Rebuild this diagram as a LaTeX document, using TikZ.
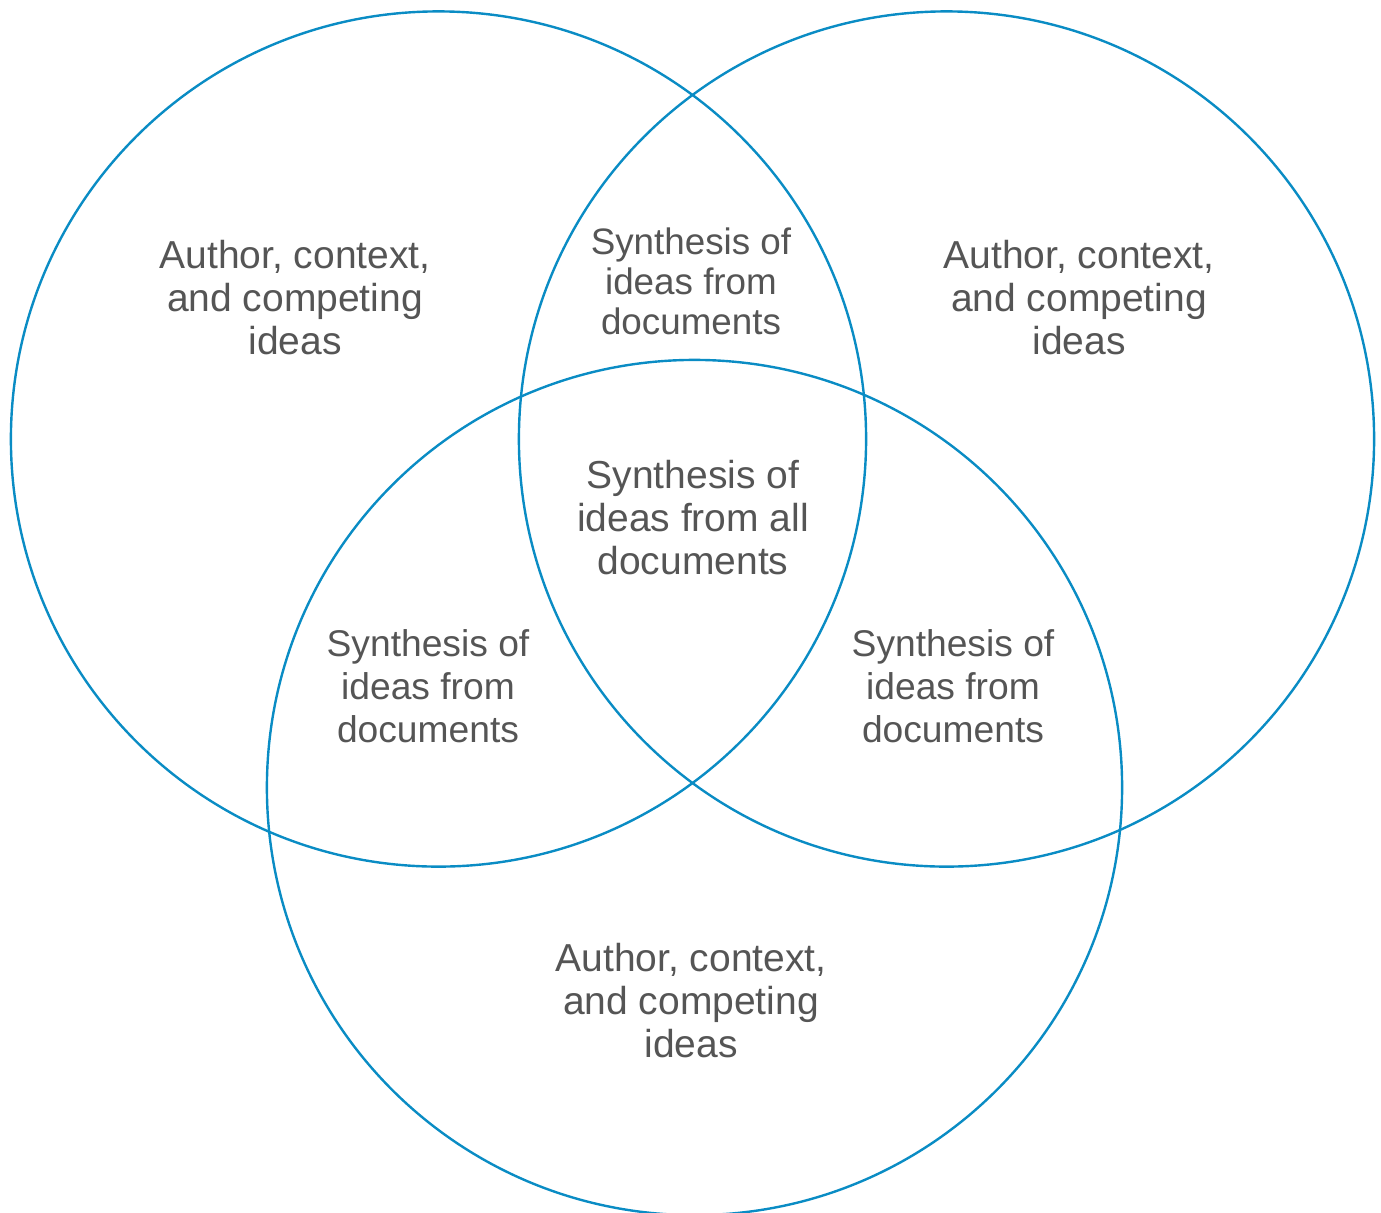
\documentclass[tikz,border=0pt]{standalone}
\usepackage{fontspec}
\setmainfont{Liberation Sans}
\definecolor{vennblue}{HTML}{0A8CC4}
\definecolor{venntext}{HTML}{555555}
\begin{document}
\begin{tikzpicture}[x=0.5pt,y=-0.5pt,
  ring/.style={draw=vennblue,line width=1.2pt},
  lbl/.style={text=venntext,align=center,font=\fontsize{19.5}{21.5}\selectfont,inner sep=0pt},
  lblmid/.style={lbl,font=\fontsize{18.6}{21.5}\selectfont},
  lblsmall/.style={lbl,font=\fontsize{18.4}{20}\selectfont}]
\useasboundingbox (0,0) rectangle (1381,1212);
\coordinate (c1) at (438.5,439);
\coordinate (c2) at (946.5,439);
\coordinate (c3) at (694.5,787.5);
\draw[ring] (c1) circle[radius=213.8pt];
\draw[ring] (c2) circle[radius=213.8pt];
\draw[ring] (c3) circle[radius=213.8pt];
\node[lbl] (a1) at (295,298) {Author, context,\\and competing\\ideas};
\node[lbl] (a2) at (1079,298) {Author, context,\\and competing\\ideas};
\node[lbl] (a3) at (691,1001) {Author, context,\\and competing\\ideas};
\node[lblsmall] (s12) at (691,281) {Synthesis of\\ideas from\\documents};
\node[lbl] (s123) at (693,518) {Synthesis of\\ideas from all\\documents};
\node[lblmid] (s13) at (428,686) {Synthesis of\\ideas from\\documents};
\node[lblmid] (s23) at (953,686) {Synthesis of\\ideas from\\documents};
\end{tikzpicture}
\end{document}
